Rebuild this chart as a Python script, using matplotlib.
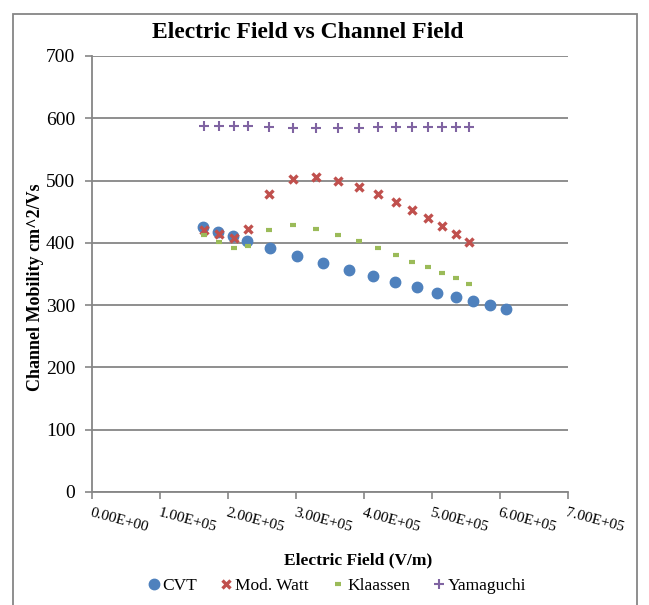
import matplotlib
matplotlib.use("Agg")
import matplotlib.pyplot as plt
from matplotlib.patches import Rectangle

plt.rcParams['font.family'] = ['Liberation Serif', 'DejaVu Serif']

# данные
x_cvt = [1.635e5, 1.856e5, 2.068e5, 2.284e5, 2.618e5, 3.010e5, 3.393e5, 3.779e5,
         4.128e5, 4.456e5, 4.779e5, 5.069e5, 5.349e5, 5.608e5, 5.853e5, 6.088e5]
y_cvt = [426, 418, 411, 403, 391, 379, 367, 357, 346, 337, 329, 320, 313, 306, 300, 294]

x_other = [1.640e5, 1.868e5, 2.081e5, 2.294e5, 2.606e5, 2.956e5, 3.297e5, 3.622e5,
           3.926e5, 4.210e5, 4.466e5, 4.710e5, 4.937e5, 5.151e5, 5.353e5, 5.544e5]
y_watt = [421, 414, 408, 422, 478, 502, 505, 499, 489, 478, 466, 453, 440, 427, 414, 401]
y_klaassen = [412, 401, 392, 395, 421, 428, 423, 413, 403, 391, 380, 370, 361, 352, 343, 334]
y_yamaguchi = [587, 588, 588, 588, 586, 585, 585, 585, 585, 586, 586, 586, 586, 586, 586, 586]

x_ticks = [0, 1e5, 2e5, 3e5, 4e5, 5e5, 6e5, 7e5]
x_labels = ['0.00E+00', '1.00E+05', '2.00E+05', '3.00E+05',
            '4.00E+05', '5.00E+05', '6.00E+05', '7.00E+05']
y_ticks = [0, 100, 200, 300, 400, 500, 600, 700]

fig = plt.figure(figsize=(6.49, 6.05), dpi=100)
ax = fig.add_axes([0.1418, 0.1868, 0.7334, 0.7207])

ax.plot(x_cvt, y_cvt, 'o', color='#4F81BD', markersize=7.5, label='CVT', zorder=3)
ax.plot(x_other, y_watt, 'x', color='#C0504D', markersize=6, markeredgewidth=2.4,
        label='Mod. Watt', zorder=3)
ax.plot(x_other, y_klaassen, '_', color='#9BBB59', markersize=5, markeredgewidth=3,
        label='Klaassen', zorder=3)
ax.plot(x_other, y_yamaguchi, '+', color='#8064A2', markersize=7, markeredgewidth=1.5,
        label='Yamaguchi', zorder=3)

ax.set_xlim(0, 7e5)
ax.set_ylim(0, 700)
ax.set_yticks(y_ticks)
ax.set_xticks(x_ticks)
ax.set_xticklabels(x_labels, rotation=-15, ha='left', va='top', rotation_mode='anchor',
                   fontsize=11)
ax.tick_params(axis='y', labelsize=14, length=5, color='#868686', width=1.2, pad=7)
ax.tick_params(axis='x', length=5, color='#868686', width=1.2, pad=5)
ax.grid(True, axis='y', color='#868686', linewidth=1.3)
ax.set_axisbelow(True)
for s in ['top', 'right']:
    ax.spines[s].set_visible(False)
for s in ['left', 'bottom']:
    ax.spines[s].set_color('#868686')
    ax.spines[s].set_linewidth(1.3)

fig.text(0.474, 0.947, 'Electric Field vs Channel Field', ha='center', va='center',
         fontsize=17, fontweight='bold')
fig.text(0.055, 0.525, 'Channel Mobility cm^2/Vs', ha='center', va='center',
         rotation=90, fontsize=13, fontweight='bold')
fig.text(0.552, 0.074, 'Electric Field (V/m)', ha='center', va='center',
         fontsize=12.5, fontweight='bold')

fig.legend(loc='center', bbox_to_anchor=(0.52, 0.031), ncol=4, frameon=False,
           fontsize=12.5, handlelength=0.6, handletextpad=0.2, columnspacing=1.4)

fig.add_artist(Rectangle((0.02, -0.01), 0.962, 0.987, transform=fig.transFigure,
                         fill=False, edgecolor='#868686', linewidth=1.3))

plt.savefig('out.png', dpi=100)
